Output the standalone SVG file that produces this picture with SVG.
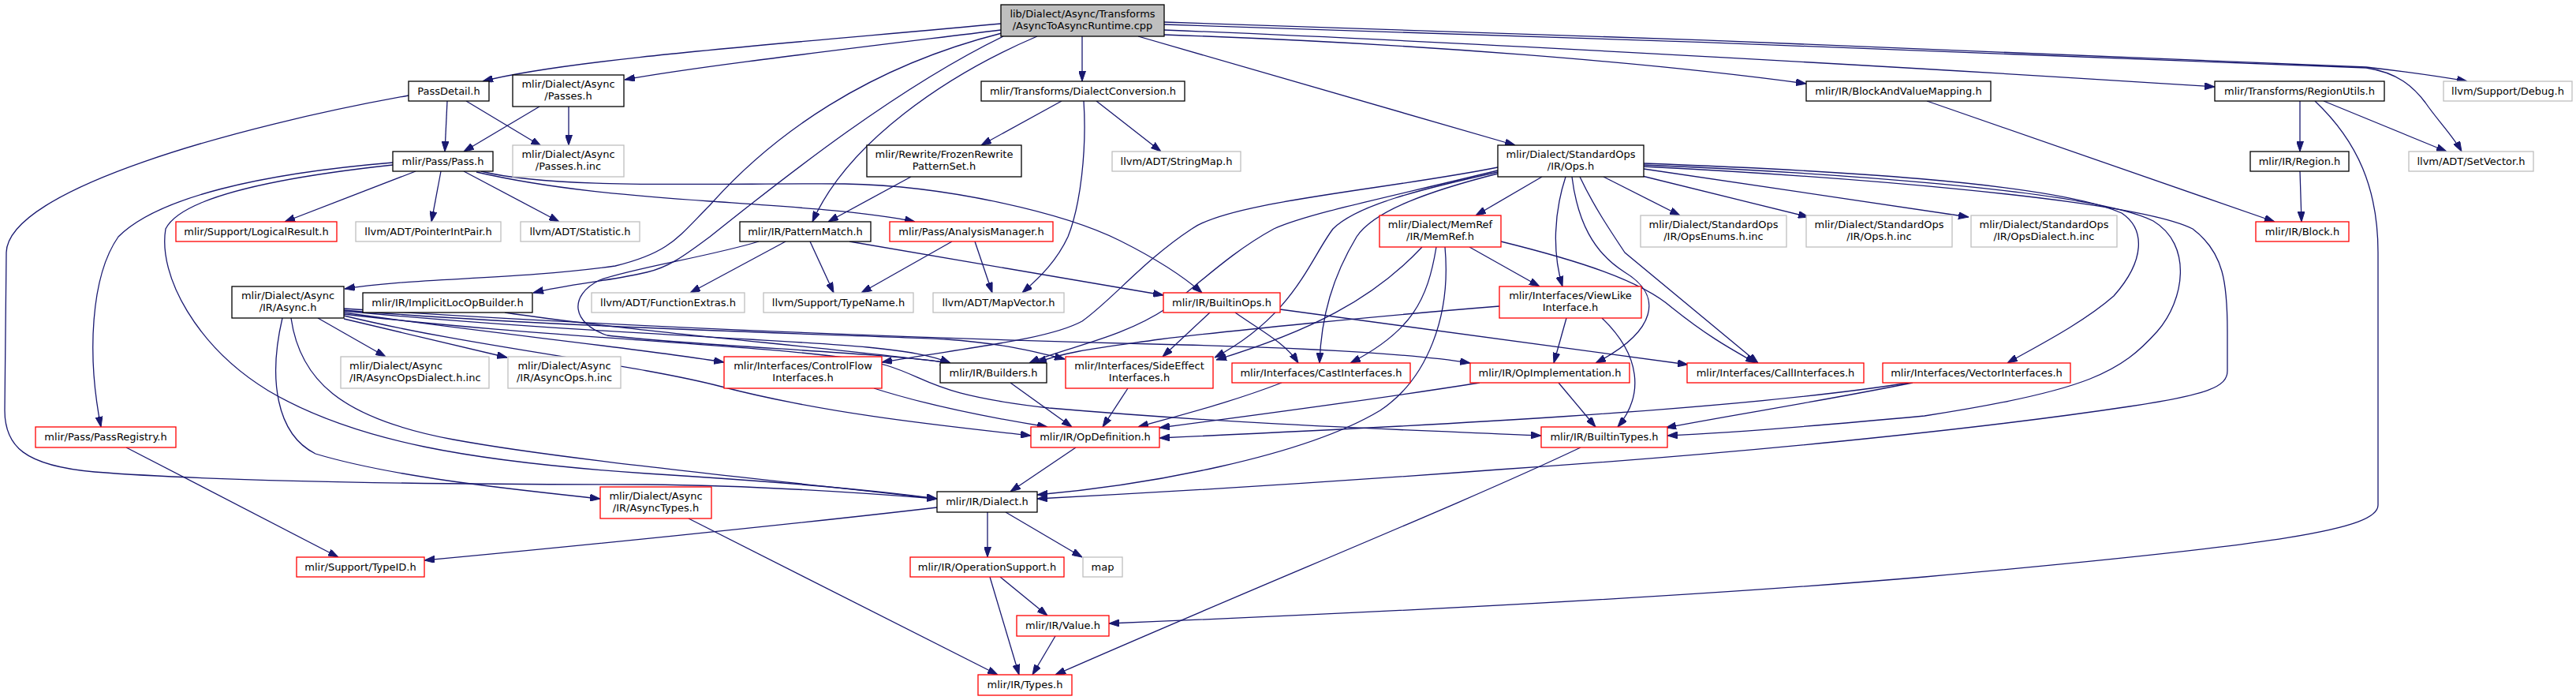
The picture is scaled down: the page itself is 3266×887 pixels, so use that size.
<svg xmlns="http://www.w3.org/2000/svg" width="3266" height="887" viewBox="0 0 3266 887">
<style>
rect{fill:#fff;stroke-width:1.3}
.k{stroke:#000}
.r{stroke:#ff0000}
.g{stroke:#bfbfbf}
.m{fill:#bfbfbf;stroke:#000}
text{font-family:"DejaVu Sans","Liberation Sans",sans-serif;font-size:13px;fill:#000;text-anchor:middle}
#edges path{fill:none;stroke:#191970;stroke-width:1.3;marker-end:url(#a)}
</style>
<defs>
<marker id="a" viewBox="0 0 13 9" refX="13" refY="4.5" markerWidth="13" markerHeight="9" markerUnits="userSpaceOnUse" orient="auto">
<path d="M0,0 L13,4.5 L0,9 z" fill="#191970" stroke="#191970" stroke-width="1"/>
</marker>
</defs>
<rect x="0" y="0" width="3266" height="887" style="fill:#fff;stroke:none"/>
<g id="edges">
<path d="M1269,30 C1000,55 720,75 612,103"/>
<path d="M1269,38 C1050,65 880,85 792,101"/>
<path d="M1270,42 C1100,85 980,170 900,260 C860,300 850,320 780,337 C650,355 520,352 437,366"/>
<path d="M1272,46 C1140,110 1000,220 900,300 C870,322 850,338 820,345 C780,355 720,360 676,371"/>
<path d="M1315,46 C1200,95 1075,180 1030,281"/>
<path d="M1372,46 L1372,103"/>
<path d="M1443,46 L1921,184"/>
<path d="M1476,44 C1800,55 2100,80 2290,106"/>
<path d="M1476,38 C1900,55 2500,90 2808,110"/>
<path d="M1476,28 C1900,40 2700,70 3000,85 C3060,92 3100,98 3128,103"/>
<path d="M1476,31 C1900,43 2700,73 3000,86 C3040,92 3060,110 3075,130 C3090,152 3110,172 3121,192"/>
<path d="M567,128 L564,192"/>
<path d="M591,128 L686,185"/>
<path d="M518,121 C300,160 10,240 8,320 L6,520 C6,565 30,590 120,598 C300,612 600,614 820,614 C950,615 1100,625 1188,632"/>
<path d="M684,135 L588,192"/>
<path d="M721,135 L721,184"/>
<path d="M527,217 L361,281"/>
<path d="M559,217 L547,281"/>
<path d="M588,217 L709,281"/>
<path d="M604,218 C700,240 800,248 900,255 C1000,262 1100,268 1160,281"/>
<path d="M610,217 C700,240 900,232 1071,233 C1200,235 1350,270 1420,305 C1470,330 1500,350 1524,371"/>
<path d="M498,206 C330,220 200,250 150,300 C115,350 110,450 128,541"/>
<path d="M498,209 C350,225 230,250 210,290 C200,350 250,440 340,495 C450,560 600,585 820,600 C950,608 1100,620 1188,632"/>
<path d="M1346,128 L1244,184"/>
<path d="M1390,128 L1472,192"/>
<path d="M1374,128 C1378,190 1370,260 1354,300 C1340,330 1320,350 1296,371"/>
<path d="M1155,224 L1050,281"/>
<path d="M996,306 L875,371"/>
<path d="M1027,306 L1057,371"/>
<path d="M1077,306 L1475,374"/>
<path d="M962,306 C900,325 800,340 760,355 C720,375 725,410 770,425 C900,440 1100,445 1205,460"/>
<path d="M1207,306 L1092,371"/>
<path d="M1236,306 L1258,371"/>
<path d="M2443,128 L2884,281"/>
<path d="M2916,128 L2916,192"/>
<path d="M2946,128 L3102,192"/>
<path d="M2935,128 C2990,180 3015,240 3015,320 L3015,640 C3015,670 2900,690 2440,731 C2100,760 1700,778 1406,790"/>
<path d="M2916,217 L2918,281"/>
<path d="M1955,224 L1871,273"/>
<path d="M2033,224 L2130,273"/>
<path d="M2078,222 L2293,275"/>
<path d="M2084,214 L2496,275"/>
<path d="M1985,224 C1970,270 1968,320 1981,363"/>
<path d="M1993,224 C2000,280 2020,320 2060,345 C2110,375 2100,420 2023,460"/>
<path d="M2003,224 C2020,260 2040,290 2060,320 L2229,460"/>
<path d="M1899,212 C1760,240 1560,255 1511,290 C1450,330 1410,380 1372,407 C1330,430 1230,440 1118,459"/>
<path d="M1899,216 C1760,250 1660,270 1615,290 C1560,320 1520,360 1480,390 C1420,430 1350,440 1305,460"/>
<path d="M1899,218 C1800,240 1720,260 1690,290 C1660,330 1640,400 1540,453"/>
<path d="M1899,220 C1800,245 1740,270 1720,300 C1690,350 1675,400 1673,460"/>
<path d="M2084,207 C2300,215 2600,230 2690,270 C2720,290 2720,330 2680,375 C2640,410 2580,440 2545,460"/>
<path d="M2084,209 C2300,218 2650,240 2730,280 C2780,310 2770,380 2735,420 C2690,470 2650,495 2440,527 C2300,540 2200,548 2114,552"/>
<path d="M2084,211 C2300,222 2700,250 2780,290 C2820,320 2824,360 2824,420 L2824,470 C2824,490 2800,500 2700,515 C2500,545 2200,575 1900,595 C1700,610 1450,625 1315,632"/>
<path d="M1863,313 L1952,363"/>
<path d="M1821,313 C1810,380 1790,420 1712,460"/>
<path d="M1803,313 C1740,380 1660,420 1542,456"/>
<path d="M1832,313 C1840,400 1810,480 1750,520 C1650,580 1450,615 1315,627"/>
<path d="M1903,306 C2000,330 2080,355 2120,390 C2170,430 2200,445 2226,460"/>
<path d="M1901,388 C1750,400 1550,420 1470,430 C1400,440 1350,445 1314,460"/>
<path d="M1986,403 L1970,460"/>
<path d="M2031,403 C2080,450 2085,500 2051,541"/>
<path d="M1976,485 L2023,541"/>
<path d="M1876,485 C1750,505 1600,525 1470,542"/>
<path d="M2425,485 C2300,510 2200,525 2112,542"/>
<path d="M2420,485 C2200,520 1800,540 1470,555"/>
<path d="M1625,485 C1560,510 1500,525 1443,541"/>
<path d="M1430,492 L1398,541"/>
<path d="M1281,485 L1359,541"/>
<path d="M1108,492 C1180,515 1260,530 1328,541"/>
<path d="M1534,396 L1474,452"/>
<path d="M1566,396 C1600,420 1630,435 1646,460"/>
<path d="M1623,392 L2140,462"/>
<path d="M403,403 L489,452"/>
<path d="M436,404 L643,453"/>
<path d="M436,396 C600,420 800,440 918,459"/>
<path d="M436,394 C700,420 1000,430 1100,440 C1150,445 1180,450 1205,460"/>
<path d="M436,393 C700,415 1100,425 1200,430 C1270,435 1310,445 1350,455"/>
<path d="M436,391 C800,415 1200,430 1500,437 C1700,442 1800,450 1864,460"/>
<path d="M436,398 C700,430 1050,440 1124,463 C1180,480 1180,500 1330,517 C1600,540 1800,545 1954,552"/>
<path d="M436,400 C600,440 800,460 915,490 C1050,525 1200,540 1307,552"/>
<path d="M369,403 C380,480 430,530 575,557 C700,580 900,600 1188,632"/>
<path d="M358,403 C340,480 350,550 400,575 C500,605 650,620 761,632"/>
<path d="M160,567 L429,706"/>
<path d="M1188,643 C1000,665 700,695 538,710"/>
<path d="M1252,649 L1252,706"/>
<path d="M1275,649 L1372,706"/>
<path d="M1268,731 L1328,780"/>
<path d="M1255,731 L1292,855"/>
<path d="M1338,806 L1309,855"/>
<path d="M873,657 L1265,855"/>
<path d="M2004,567 C1850,640 1600,740 1338,855"/>
<path d="M1364,567 L1281,623"/>
<path d="M640,396 C800,420 1050,440 1205,460"/>
</g>
<g id="n0"><rect class="m" x="1269" y="6" width="207" height="40"/><text x="1372.5" y="22">lib/Dialect/Async/Transforms</text><text x="1372.5" y="37">/AsyncToAsyncRuntime.cpp</text></g>
<g id="n1"><rect class="k" x="518" y="103" width="102" height="25"/><text x="569" y="120">PassDetail.h</text></g>
<g id="n2"><rect class="k" x="650" y="95" width="141" height="40"/><text x="720.5" y="111">mlir/Dialect/Async</text><text x="720.5" y="126">/Passes.h</text></g>
<g id="n3"><rect class="k" x="498" y="192" width="127" height="25"/><text x="561.5" y="209">mlir/Pass/Pass.h</text></g>
<g id="n4"><rect class="g" x="650" y="184" width="141" height="40"/><text x="720.5" y="200">mlir/Dialect/Async</text><text x="720.5" y="215">/Passes.h.inc</text></g>
<g id="n5"><rect class="r" x="223" y="281" width="204" height="25"/><text x="325" y="298">mlir/Support/LogicalResult.h</text></g>
<g id="n6"><rect class="g" x="451" y="281" width="184" height="25"/><text x="543" y="298">llvm/ADT/PointerIntPair.h</text></g>
<g id="n7"><rect class="g" x="660" y="281" width="151" height="25"/><text x="735.5" y="298">llvm/ADT/Statistic.h</text></g>
<g id="n8"><rect class="k" x="1244" y="103" width="258" height="25"/><text x="1373" y="120">mlir/Transforms/DialectConversion.h</text></g>
<g id="n9"><rect class="k" x="1099" y="184" width="196" height="40"/><text x="1197" y="200">mlir/Rewrite/FrozenRewrite</text><text x="1197" y="215">PatternSet.h</text></g>
<g id="n10"><rect class="g" x="1410" y="192" width="163" height="25"/><text x="1491.5" y="209">llvm/ADT/StringMap.h</text></g>
<g id="n11"><rect class="k" x="938" y="281" width="166" height="25"/><text x="1021" y="298">mlir/IR/PatternMatch.h</text></g>
<g id="n12"><rect class="r" x="1128" y="281" width="207" height="25"/><text x="1231.5" y="298">mlir/Pass/AnalysisManager.h</text></g>
<g id="n13"><rect class="k" x="2290" y="103" width="234" height="25"/><text x="2407" y="120">mlir/IR/BlockAndValueMapping.h</text></g>
<g id="n14"><rect class="k" x="1899" y="184" width="185" height="40"/><text x="1991.5" y="200">mlir/Dialect/StandardOps</text><text x="1991.5" y="215">/IR/Ops.h</text></g>
<g id="n15"><rect class="r" x="1749" y="273" width="154" height="40"/><text x="1826" y="289">mlir/Dialect/MemRef</text><text x="1826" y="304">/IR/MemRef.h</text></g>
<g id="n16"><rect class="g" x="2080" y="273" width="185" height="40"/><text x="2172.5" y="289">mlir/Dialect/StandardOps</text><text x="2172.5" y="304">/IR/OpsEnums.h.inc</text></g>
<g id="n17"><rect class="g" x="2290" y="273" width="185" height="40"/><text x="2382.5" y="289">mlir/Dialect/StandardOps</text><text x="2382.5" y="304">/IR/Ops.h.inc</text></g>
<g id="n18"><rect class="g" x="2499" y="273" width="185" height="40"/><text x="2591.5" y="289">mlir/Dialect/StandardOps</text><text x="2591.5" y="304">/IR/OpsDialect.h.inc</text></g>
<g id="n19"><rect class="k" x="2808" y="103" width="215" height="25"/><text x="2915.5" y="120">mlir/Transforms/RegionUtils.h</text></g>
<g id="n20"><rect class="g" x="3098" y="103" width="163" height="25"/><text x="3179.5" y="120">llvm/Support/Debug.h</text></g>
<g id="n21"><rect class="k" x="2853" y="192" width="125" height="25"/><text x="2915.5" y="209">mlir/IR/Region.h</text></g>
<g id="n22"><rect class="g" x="3054" y="192" width="158" height="25"/><text x="3133" y="209">llvm/ADT/SetVector.h</text></g>
<g id="n23"><rect class="r" x="2860" y="281" width="118" height="25"/><text x="2919" y="298">mlir/IR/Block.h</text></g>
<g id="n24"><rect class="k" x="294" y="363" width="142" height="40"/><text x="365" y="379">mlir/Dialect/Async</text><text x="365" y="394">/IR/Async.h</text></g>
<g id="n25"><rect class="k" x="460" y="371" width="215" height="25"/><text x="567.5" y="388">mlir/IR/ImplicitLocOpBuilder.h</text></g>
<g id="n26"><rect class="g" x="750" y="371" width="194" height="25"/><text x="847" y="388">llvm/ADT/FunctionExtras.h</text></g>
<g id="n27"><rect class="g" x="968" y="371" width="190" height="25"/><text x="1063" y="388">llvm/Support/TypeName.h</text></g>
<g id="n28"><rect class="g" x="1183" y="371" width="166" height="25"/><text x="1266" y="388">llvm/ADT/MapVector.h</text></g>
<g id="n29"><rect class="r" x="1475" y="371" width="148" height="25"/><text x="1549" y="388">mlir/IR/BuiltinOps.h</text></g>
<g id="n30"><rect class="r" x="1901" y="363" width="180" height="40"/><text x="1991" y="379">mlir/Interfaces/ViewLike</text><text x="1991" y="394">Interface.h</text></g>
<g id="n31"><rect class="g" x="432" y="452" width="188" height="40"/><text x="443" y="468" style="text-anchor:start">mlir/Dialect/Async</text><text x="443" y="483" style="text-anchor:start">/IR/AsyncOpsDialect.h.inc</text></g>
<g id="n32"><rect class="g" x="644" y="452" width="143" height="40"/><text x="715.5" y="468">mlir/Dialect/Async</text><text x="715.5" y="483">/IR/AsyncOps.h.inc</text></g>
<g id="n33"><rect class="r" x="918" y="452" width="200" height="40"/><text x="1018" y="468">mlir/Interfaces/ControlFlow</text><text x="1018" y="483">Interfaces.h</text></g>
<g id="n34"><rect class="k" x="1192" y="460" width="135" height="25"/><text x="1259.5" y="477">mlir/IR/Builders.h</text></g>
<g id="n35"><rect class="r" x="1351" y="452" width="187" height="40"/><text x="1444.5" y="468">mlir/Interfaces/SideEffect</text><text x="1444.5" y="483">Interfaces.h</text></g>
<g id="n36"><rect class="r" x="1562" y="460" width="226" height="25"/><text x="1675" y="477">mlir/Interfaces/CastInterfaces.h</text></g>
<g id="n37"><rect class="r" x="1864" y="460" width="202" height="25"/><text x="1965" y="477">mlir/IR/OpImplementation.h</text></g>
<g id="n38"><rect class="r" x="2139" y="460" width="224" height="25"/><text x="2251" y="477">mlir/Interfaces/CallInterfaces.h</text></g>
<g id="n39"><rect class="r" x="2387" y="460" width="238" height="25"/><text x="2506" y="477">mlir/Interfaces/VectorInterfaces.h</text></g>
<g id="n40"><rect class="r" x="45" y="541" width="178" height="26"/><text x="134" y="558">mlir/Pass/PassRegistry.h</text></g>
<g id="n41"><rect class="r" x="1307" y="541" width="163" height="26"/><text x="1388.5" y="558">mlir/IR/OpDefinition.h</text></g>
<g id="n42"><rect class="r" x="1954" y="541" width="160" height="26"/><text x="2034" y="558">mlir/IR/BuiltinTypes.h</text></g>
<g id="n43"><rect class="r" x="761" y="617" width="141" height="40"/><text x="831.5" y="633">mlir/Dialect/Async</text><text x="831.5" y="648">/IR/AsyncTypes.h</text></g>
<g id="n44"><rect class="k" x="1188" y="623" width="127" height="26"/><text x="1251.5" y="640">mlir/IR/Dialect.h</text></g>
<g id="n45"><rect class="r" x="376" y="706" width="162" height="25"/><text x="457" y="723">mlir/Support/TypeID.h</text></g>
<g id="n46"><rect class="r" x="1154" y="706" width="195" height="25"/><text x="1251.5" y="723">mlir/IR/OperationSupport.h</text></g>
<g id="n47"><rect class="g" x="1373" y="706" width="50" height="25"/><text x="1398" y="723">map</text></g>
<g id="n48"><rect class="r" x="1289" y="780" width="117" height="26"/><text x="1347.5" y="797">mlir/IR/Value.h</text></g>
<g id="n49"><rect class="r" x="1240" y="855" width="119" height="26"/><text x="1299.5" y="872">mlir/IR/Types.h</text></g>
</svg>
